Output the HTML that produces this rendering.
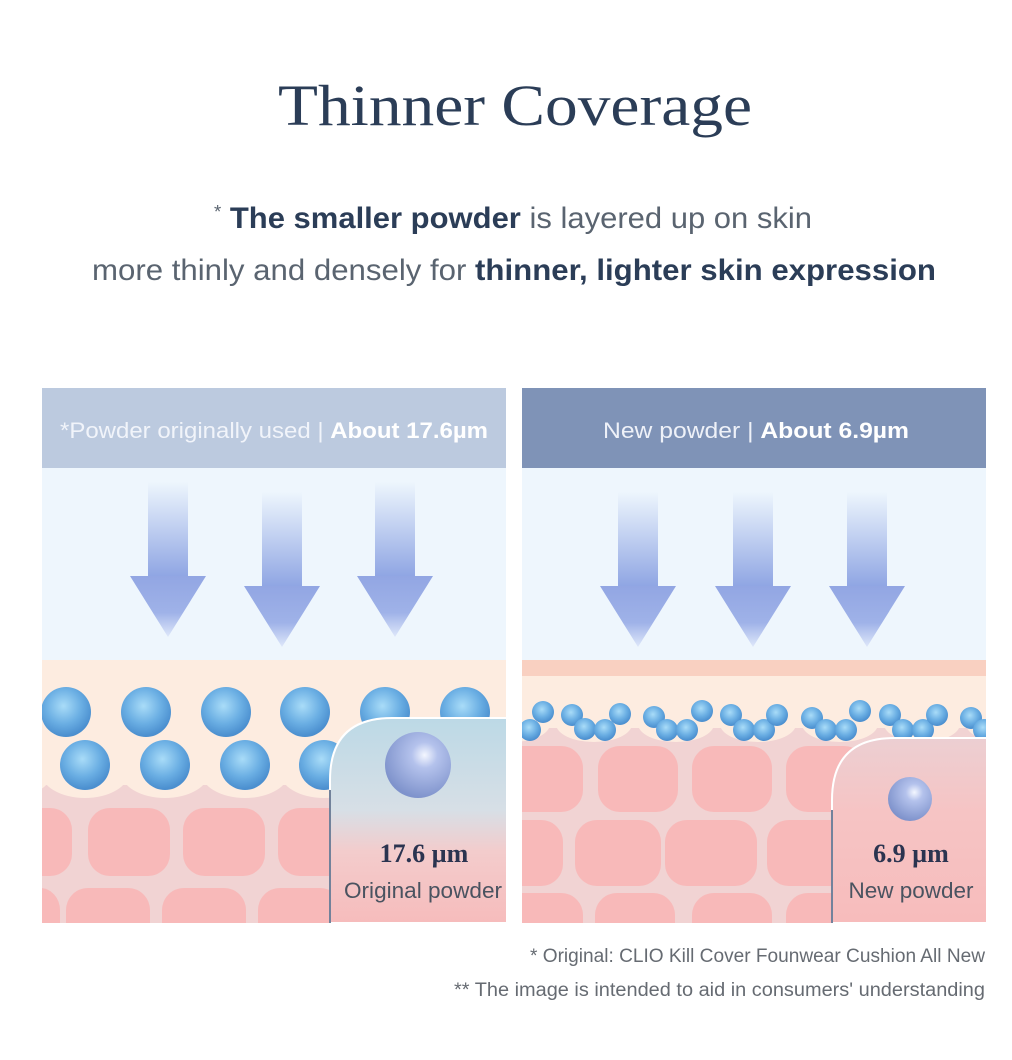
<!DOCTYPE html>
<html><head><meta charset="utf-8"><style>
html,body{margin:0;padding:0;background:#fff}
svg{display:block}
</style></head><body>
<svg width="1012" height="1060" viewBox="0 0 1012 1060" xmlns="http://www.w3.org/2000/svg">
<defs>
<linearGradient id="shaft" x1="0" y1="0" x2="0" y2="1">
<stop offset="0" stop-color="#eef6fd"/><stop offset="1" stop-color="#8fa5e3"/></linearGradient>
<linearGradient id="head" x1="0" y1="0" x2="0" y2="1">
<stop offset="0" stop-color="#92a6e3"/><stop offset="0.6" stop-color="#9fb2e8"/><stop offset="1" stop-color="#dfe8fa"/></linearGradient>
<radialGradient id="ball" cx="0.45" cy="0.38" r="0.6">
<stop offset="0" stop-color="#a9dcf8"/><stop offset="0.6" stop-color="#6aaee3"/><stop offset="1" stop-color="#4b8fcf"/></radialGradient>
<radialGradient id="ball2" cx="0.6" cy="0.35" r="0.65">
<stop offset="0" stop-color="#f4f7ff"/><stop offset="0.3" stop-color="#b4c2ec"/><stop offset="1" stop-color="#7f93cc"/></radialGradient>
<linearGradient id="insetL" x1="0" y1="0" x2="0" y2="1">
<stop offset="0" stop-color="#bcd9e6"/><stop offset="0.45" stop-color="#d7dfe6"/><stop offset="0.65" stop-color="#f3cccc"/><stop offset="1" stop-color="#f6bcbc"/></linearGradient>
<linearGradient id="insetR" x1="0" y1="0" x2="0" y2="1">
<stop offset="0" stop-color="#eccfd2"/><stop offset="0.4" stop-color="#f6c4c4"/><stop offset="1" stop-color="#f7bcbc"/></linearGradient>
<clipPath id="cl"><rect x="42" y="388" width="464" height="535"/></clipPath>
<clipPath id="cr"><rect x="522" y="388" width="464" height="535"/></clipPath>
<g id="arrow">
<rect x="-20" y="0" width="40" height="95" fill="url(#shaft)"/>
<polygon points="-38,94 38,94 0,155" fill="url(#head)"/>
</g>
</defs>

<text x="515" y="125" text-anchor="middle" font-family="Liberation Serif, serif" font-size="58" fill="#2b3d57" textLength="474" lengthAdjust="spacingAndGlyphs">Thinner Coverage</text>
<text x="513" y="228" text-anchor="middle" font-family="Liberation Sans, sans-serif" font-size="30" fill="#5a6470" textLength="598" lengthAdjust="spacingAndGlyphs"><tspan font-size="18" dy="-10">*</tspan><tspan dy="10" font-weight="bold" fill="#2b3d57"> The smaller powder</tspan> is layered up on skin</text>
<text x="514" y="280" text-anchor="middle" font-family="Liberation Sans, sans-serif" font-size="30" fill="#5a6470" textLength="844" lengthAdjust="spacingAndGlyphs">more thinly and densely for <tspan font-weight="bold" fill="#2b3d57">thinner, lighter skin expression</tspan></text>

<!-- LEFT PANEL -->
<g clip-path="url(#cl)">
<rect x="42" y="388" width="464" height="80" fill="#bccadf"/>
<rect x="42" y="468" width="464" height="192" fill="#eef6fd"/>
<rect x="42" y="660" width="464" height="263" fill="#fdece0"/>
<rect x="42" y="785" width="464" height="138" fill="#f1d3d3"/>
<g fill="#fdece0">
<ellipse cx="85" cy="772" rx="44" ry="26"/><ellipse cx="165" cy="772" rx="44" ry="26"/><ellipse cx="245" cy="772" rx="44" ry="26"/><ellipse cx="324" cy="772" rx="44" ry="26"/><ellipse cx="404" cy="772" rx="44" ry="26"/><ellipse cx="484" cy="772" rx="44" ry="26"/><ellipse cx="8" cy="772" rx="44" ry="26"/>
</g>
<g fill="#f8b9b9">
<rect x="10" y="808" width="62" height="68" rx="22"/><rect x="88" y="808" width="82" height="68" rx="22"/><rect x="183" y="808" width="82" height="68" rx="22"/><rect x="278" y="808" width="82" height="68" rx="22"/>
<rect x="20" y="888" width="40" height="60" rx="22"/><rect x="66" y="888" width="84" height="60" rx="22"/><rect x="162" y="888" width="84" height="60" rx="22"/><rect x="258" y="888" width="84" height="60" rx="22"/>
</g>
<g fill="url(#ball)">
<circle cx="66" cy="712" r="25"/><circle cx="146" cy="712" r="25"/><circle cx="226" cy="712" r="25"/><circle cx="305" cy="712" r="25"/><circle cx="385" cy="712" r="25"/><circle cx="465" cy="712" r="25"/>
<circle cx="85" cy="765" r="25"/><circle cx="165" cy="765" r="25"/><circle cx="245" cy="765" r="25"/><circle cx="324" cy="765" r="25"/>
</g>
<use href="#arrow" x="168" y="482"/><use href="#arrow" x="282" y="492"/><use href="#arrow" x="395" y="482"/>
<path d="M330,923 V780 Q330,718 392,718 H510 V923 Z" fill="url(#insetL)" stroke="#ffffff" stroke-width="2"/>
<line x1="330" y1="790" x2="330" y2="923" stroke="#44587a" stroke-width="1.5"/>
<circle cx="418" cy="765" r="33" fill="url(#ball2)"/>
<text x="424" y="862" text-anchor="middle" font-family="Liberation Serif, serif" font-weight="bold" font-size="26" fill="#2b3450">17.6 µm</text>
<text x="423" y="898" text-anchor="middle" font-family="Liberation Sans, sans-serif" font-size="22" fill="#4a5360" textLength="158" lengthAdjust="spacingAndGlyphs">Original powder</text>
</g>
<text x="274" y="438" text-anchor="middle" font-family="Liberation Sans, sans-serif" font-size="22" fill="#ffffff" textLength="428" lengthAdjust="spacingAndGlyphs"><tspan fill="#f1f4fa">*Powder originally used  |  </tspan><tspan font-weight="bold">About 17.6µm</tspan></text>

<!-- RIGHT PANEL -->
<g clip-path="url(#cr)">
<rect x="522" y="388" width="464" height="80" fill="#7f93b7"/>
<rect x="522" y="468" width="464" height="192" fill="#eef6fd"/>
<rect x="522" y="660" width="464" height="16" fill="#f9d0c1"/>
<rect x="522" y="676" width="464" height="247" fill="#fdece0"/>
<rect x="522" y="728" width="464" height="195" fill="#f1d3d3"/>
<g fill="#fdece0">
<ellipse cx="512" cy="724" rx="38" ry="18"/><ellipse cx="594" cy="724" rx="38" ry="18"/><ellipse cx="676" cy="724" rx="38" ry="18"/><ellipse cx="758" cy="724" rx="38" ry="18"/><ellipse cx="840" cy="724" rx="38" ry="18"/><ellipse cx="922" cy="724" rx="38" ry="18"/><ellipse cx="1004" cy="724" rx="38" ry="18"/>
</g>
<g fill="#f8b9b9">
<rect x="500" y="746" width="83" height="66" rx="22"/><rect x="598" y="746" width="80" height="66" rx="22"/><rect x="692" y="746" width="80" height="66" rx="22"/><rect x="786" y="746" width="80" height="66" rx="22"/>
<rect x="500" y="820" width="63" height="66" rx="22"/><rect x="575" y="820" width="86" height="66" rx="22"/><rect x="665" y="820" width="92" height="66" rx="22"/><rect x="767" y="820" width="86" height="66" rx="22"/>
<rect x="500" y="893" width="83" height="60" rx="22"/><rect x="595" y="893" width="80" height="60" rx="22"/><rect x="692" y="893" width="80" height="60" rx="22"/><rect x="786" y="893" width="80" height="60" rx="22"/>
</g>
<g fill="url(#ball)">
<circle cx="490" cy="715" r="11"/><circle cx="503" cy="729" r="11"/><circle cx="530" cy="730" r="11"/><circle cx="543" cy="712" r="11"/>
<circle cx="572" cy="715" r="11"/><circle cx="585" cy="729" r="11"/><circle cx="605" cy="730" r="11"/><circle cx="620" cy="714" r="11"/>
<circle cx="654" cy="717" r="11"/><circle cx="667" cy="730" r="11"/><circle cx="687" cy="730" r="11"/><circle cx="702" cy="711" r="11"/>
<circle cx="731" cy="715" r="11"/><circle cx="744" cy="730" r="11"/><circle cx="764" cy="730" r="11"/><circle cx="777" cy="715" r="11"/>
<circle cx="812" cy="718" r="11"/><circle cx="826" cy="730" r="11"/><circle cx="846" cy="730" r="11"/><circle cx="860" cy="711" r="11"/>
<circle cx="890" cy="715" r="11"/><circle cx="903" cy="730" r="11"/><circle cx="923" cy="730" r="11"/><circle cx="937" cy="715" r="11"/>
<circle cx="971" cy="718" r="11"/><circle cx="984" cy="730" r="11"/>
</g>
<use href="#arrow" x="638" y="492"/><use href="#arrow" x="753" y="492"/><use href="#arrow" x="867" y="492"/>
<path d="M832,923 V800 Q832,738 894,738 H990 V923 Z" fill="url(#insetR)" stroke="#ffffff" stroke-width="2"/>
<line x1="832" y1="810" x2="832" y2="923" stroke="#44587a" stroke-width="1.5"/>
<circle cx="910" cy="799" r="22" fill="url(#ball2)"/>
<text x="911" y="862" text-anchor="middle" font-family="Liberation Serif, serif" font-weight="bold" font-size="26" fill="#2b3450">6.9 µm</text>
<text x="911" y="898" text-anchor="middle" font-family="Liberation Sans, sans-serif" font-size="22" fill="#4a5360" textLength="125" lengthAdjust="spacingAndGlyphs">New powder</text>
</g>
<text x="756" y="438" text-anchor="middle" font-family="Liberation Sans, sans-serif" font-size="22" fill="#ffffff" textLength="306" lengthAdjust="spacingAndGlyphs"><tspan fill="#eef1f8">New powder  |  </tspan><tspan font-weight="bold">About 6.9µm</tspan></text>

<text x="985" y="962" text-anchor="end" font-family="Liberation Sans, sans-serif" font-size="19" fill="#666b72" textLength="455" lengthAdjust="spacingAndGlyphs">* Original: CLIO Kill Cover Founwear Cushion All New</text>
<text x="985" y="996" text-anchor="end" font-family="Liberation Sans, sans-serif" font-size="19" fill="#666b72" textLength="531" lengthAdjust="spacingAndGlyphs">** The image is intended to aid in consumers' understanding</text>
</svg>
</body></html>
